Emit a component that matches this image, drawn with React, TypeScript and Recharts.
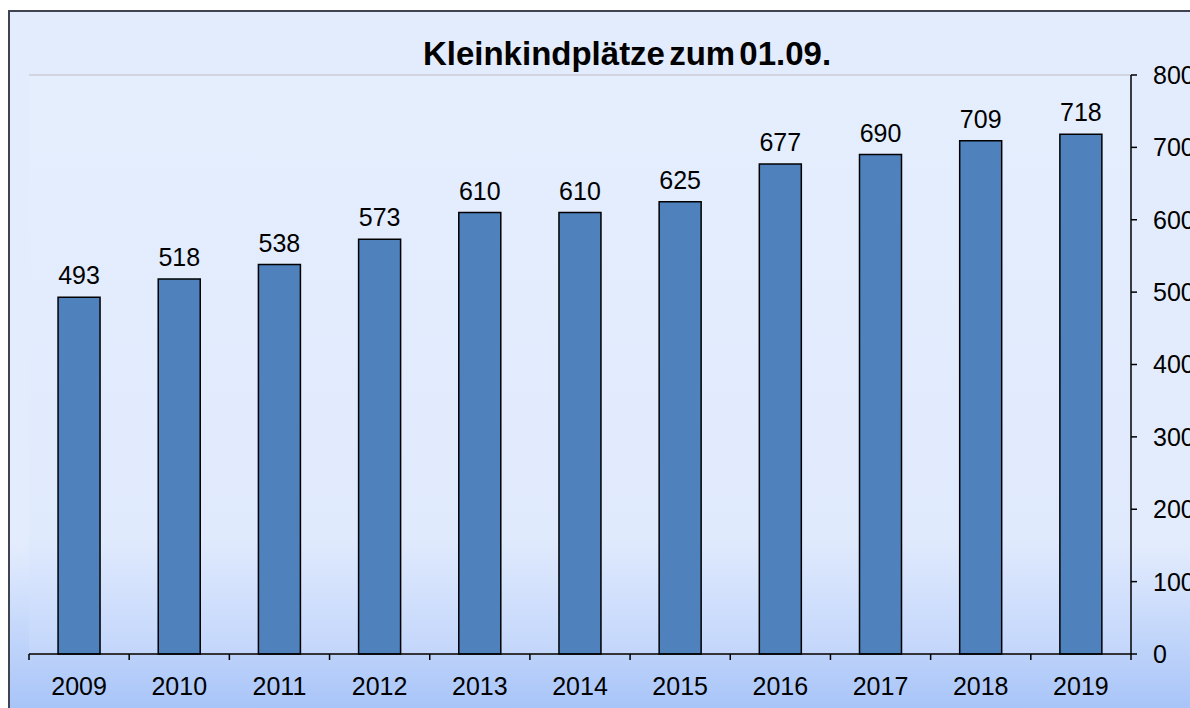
import { Bar, BarChart, CartesianGrid, LabelList, XAxis, YAxis } from 'recharts';

const years = ['2009', '2010', '2011', '2012', '2013', '2014', '2015', '2016', '2017', '2018', '2019'];
const places = [493, 518, 538, 573, 610, 610, 625, 677, 690, 709, 718];
const yTicks = [0, 100, 200, 300, 400, 500, 600, 700, 800];

const title = 'Kleinkindplätze zum 01.09.';

const font = '"Liberation Sans", Arial, sans-serif';
const TICK_SIZE = 6;
const TICK_MARGIN = 17;

const data = years.map((y, i) => ({ year: y, value: places[i] }));

function YearTick(props: any) {
  const { x, y, payload, index, width } = props;
  const bw = (typeof width === 'number' && width > 0 ? width : 1102) / years.length;
  const axisY = y - TICK_SIZE - TICK_MARGIN;
  const last = index === years.length - 1;
  return (
    <g>
      <line x1={x - bw / 2} x2={x - bw / 2} y1={axisY} y2={axisY + TICK_SIZE} stroke="#000" strokeWidth={1.5} />
      {last && <line x1={x + bw / 2} x2={x + bw / 2} y1={axisY} y2={axisY + TICK_SIZE} stroke="#000" strokeWidth={1.5} />}
      <text x={x} y={y} dy="0.71em" textAnchor="middle" fill="#000" fontSize={25} fontFamily={font}>
        {payload.value}
      </text>
    </g>
  );
}

export default function App() {
  return (
    <div style={{ position: 'fixed', left: 0, top: 0, width: 1190, height: 708, overflow: 'hidden', background: '#fff' }}>
      <div
        style={{
          position: 'absolute',
          left: 8,
          top: 10,
          width: 1260,
          height: 706,
          boxSizing: 'border-box',
          border: '2px solid #3f4450',
          background: 'linear-gradient(180deg, #e3ecfd 0%, #e3ecfd 76%, #a6c3f8 100%)',
          fontFamily: font,
        }}
      >
        <div
          style={{
            position: 'absolute',
            left: 0,
            top: 26,
            width: 1234,
            textAlign: 'center',
            fontSize: 33,
            lineHeight: '32px',
            fontWeight: 'bold',
            wordSpacing: -5,
            color: '#000',
          }}
        >
          {title}
        </div>
        <BarChart
          width={1240}
          height={700}
          data={data}
          margin={{ top: 63, right: 59, bottom: 18, left: 19 }}
          barCategoryGap="29%"
        >
          <defs>
            <linearGradient id="plotBg" x1="0" y1="0" x2="0" y2="1">
              <stop offset="0%" stopColor="#e5eefd" />
              <stop offset="80%" stopColor="#e0eafd" />
              <stop offset="100%" stopColor="#c3d6fb" />
            </linearGradient>
          </defs>
          <CartesianGrid vertical={false} stroke="#c8ccd4" strokeWidth={1.5} fill="url(#plotBg)" />
          <XAxis
            dataKey="year"
            height={40}
            interval={0}
            tickLine={false}
            tickSize={TICK_SIZE}
            tickMargin={TICK_MARGIN}
            axisLine={{ stroke: '#000', strokeWidth: 1.5 }}
            tick={<YearTick />}
          />
          <YAxis
            yAxisId="left"
            orientation="left"
            width={0}
            domain={[0, 800]}
            ticks={yTicks}
            tick={false}
            tickLine={false}
            axisLine={{ stroke: '#c4cad6', strokeWidth: 1.5 }}
          />
          <YAxis
            yAxisId="right"
            orientation="right"
            width={60}
            domain={[0, 800]}
            ticks={yTicks}
            interval={0}
            tickSize={TICK_SIZE}
            tickMargin={16}
            axisLine={{ stroke: '#000', strokeWidth: 1.5 }}
            tickLine={{ stroke: '#000', strokeWidth: 1.5 }}
            tick={{ fill: '#000', fontSize: 25, fontFamily: font, textAnchor: 'start' }}
          />
          <Bar dataKey="value" yAxisId="right" fill="#4f81bd" stroke="#000" strokeWidth={1.5} isAnimationActive={false}>
            <LabelList dataKey="value" position="top" offset={13} fill="#000" fontSize={25} fontFamily={font} />
          </Bar>
        </BarChart>
      </div>
    </div>
  );
}
